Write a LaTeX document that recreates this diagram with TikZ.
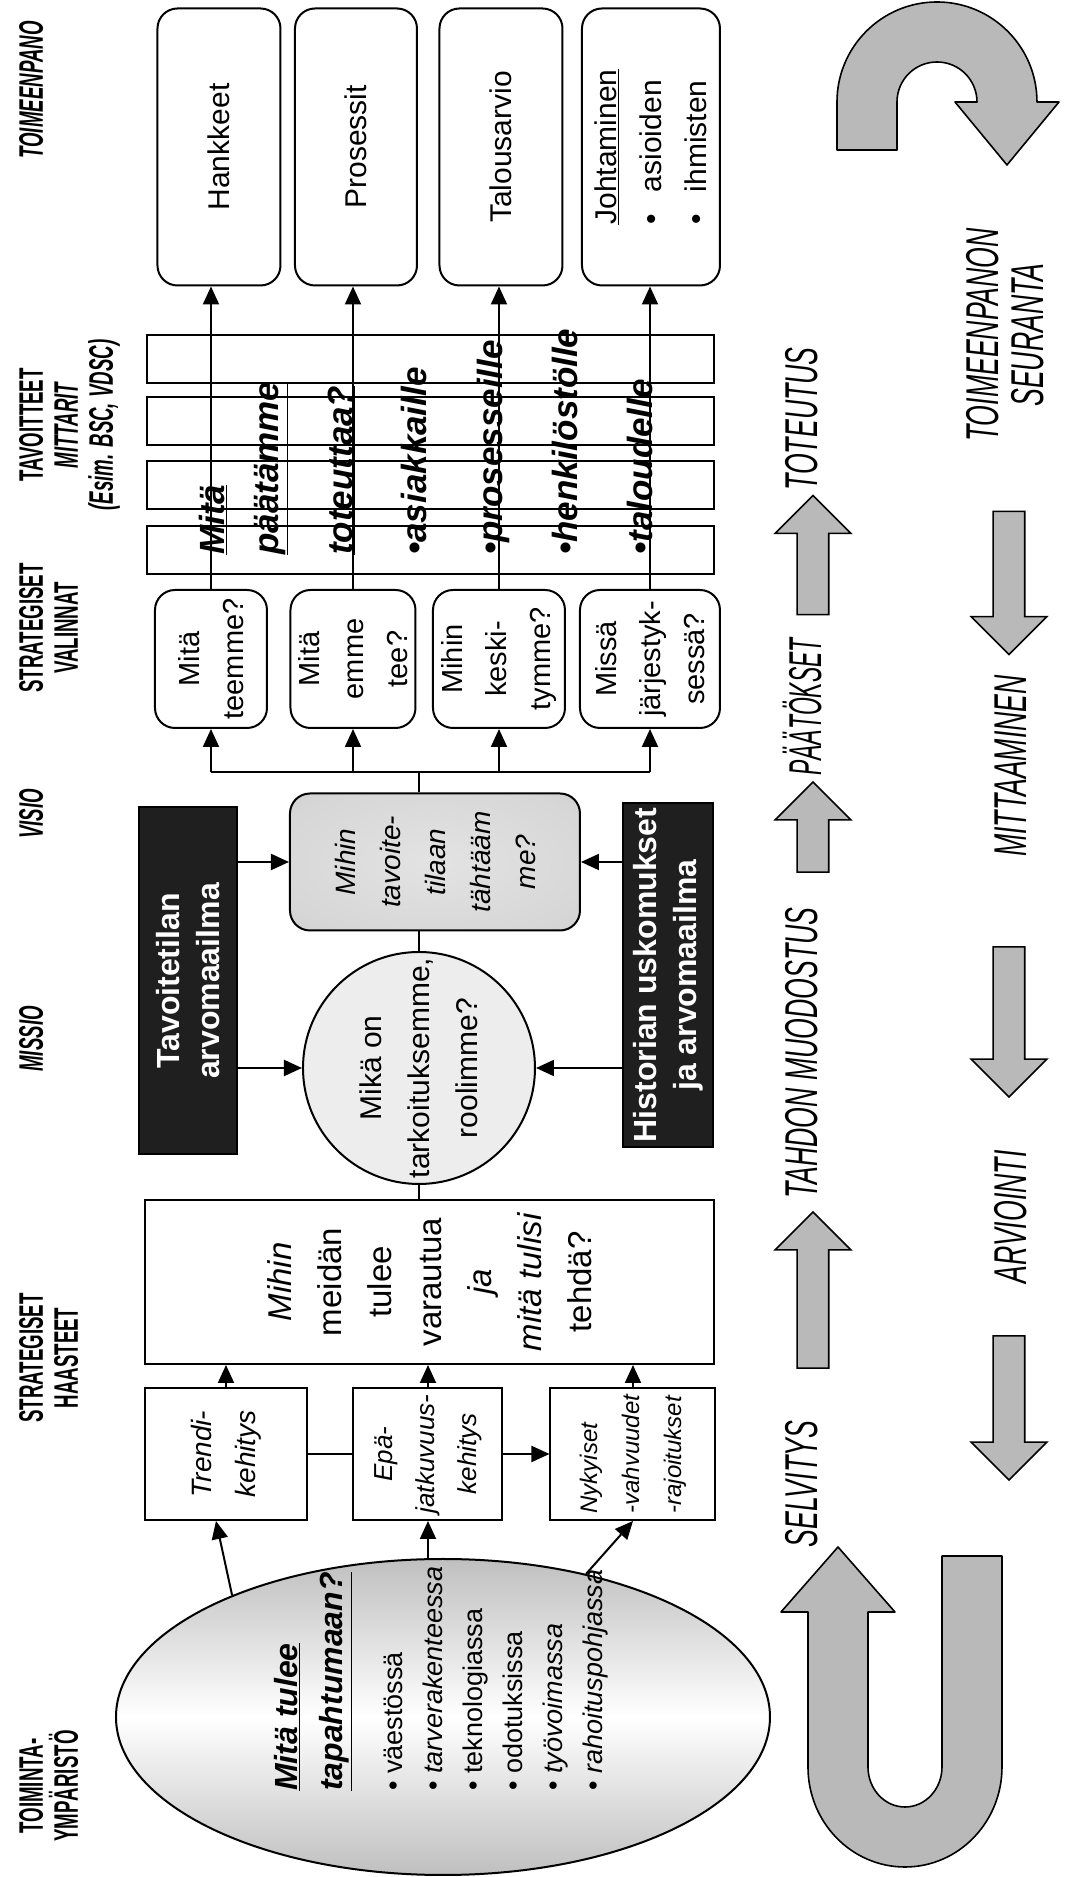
\documentclass[tikz,border=0pt]{standalone}
\usepackage{fontspec}
\setmainfont{Liberation Sans}
\newfontfamily\headfont{Liberation Sans}[FakeStretch=0.55]
\newfontfamily\phasefont{Liberation Sans}[FakeStretch=0.58]
\usetikzlibrary{positioning, shapes.geometric, shapes.arrows, arrows.meta}

\pgfdeclareradialshading{speckle}{\pgfpoint{0bp}{0bp}}{color(0bp)=(white); color(36bp)=(white); color(71bp)=(gray!70)}
\pgfdeclareradialshading{visionshade}{\pgfpoint{0bp}{0bp}}{color(0bp)=(gray!22); color(30bp)=(gray!32); color(71bp)=(gray!65)}

\tikzset{
  header/.style={align=center, anchor=north, inner sep=0pt,
    font=\headfont\bfseries\fontsize{34}{35}\selectfont},
  headerit/.style={header, font=\headfont\bfseries\itshape\fontsize{34}{35}\selectfont},
  phase/.style={inner sep=0pt, align=center,
    font=\phasefont\itshape\fontsize{46}{45}\selectfont},
  flowright/.style={single arrow, draw, line width=1.6pt, fill=gray!55,
    inner sep=0pt, text height=15pt, text depth=15pt,
    single arrow head extend=22pt, minimum height=#1},
  flowleft/.style={flowright=#1, shape border rotate=180},
  uturn/.style={draw, line width=1.6pt, fill=gray!55, line join=round},
  squarebox/.style={draw, rectangle, line width=2pt, align=center, inner sep=0pt},
  roundbox/.style={squarebox, rounded corners=20pt},
  darkbox/.style={squarebox, fill=black!88, text=white,
    font=\bfseries\fontsize{32}{40}\selectfont},
  strip/.style={draw, rectangle, line width=2pt, minimum width=48pt, minimum height=567pt},
  goal/.style={anchor=mid west, inner sep=0pt,
    font=\bfseries\itshape\fontsize{35}{40}\selectfont},
  link/.style={line width=2pt},
  tolink/.style={line width=2pt, -{Triangle[length=18pt, width=16pt]}},
}

\begin{document}
\begin{tikzpicture}[rotate=90, transform shape, x=1pt, y=1pt]
\useasboundingbox (0,0) rectangle (1877,1071);
\fill[white] (0,0) rectangle (1877,1071);

% column headers
\node[header]   (hEnv)  at (91,1052)   {TOIMINTA-\\YMPÄRISTÖ};
\node[header]   (hChal) at (519,1052)  {STRATEGISET\\HAASTEET};
\node[headerit] (hMis)  at (838,1052)  {MISSIO};
\node[headerit] (hVis)  at (1063,1052) {VISIO};
\node[header]   (hCho)  at (1249,1052) {STRATEGISET\\VALINNAT};
\node[header]   (hGoal) at (1452,1052) {TAVOITTEET\\\textit{MITTARIT}\\\textit{(Esim. BSC, VDSC)}};
\node[headerit] (hDo)   at (1787,1052) {TOIMEENPANO};

% operating environment
\node[ellipse, draw, line width=2pt, minimum width=316pt, minimum height=654pt, inner sep=0pt,
  top color=gray!50, bottom color=gray!50, middle color=white] (env) at (160,628) {};
\node[anchor=west, align=left, inner sep=0pt, font=\bfseries\itshape\fontsize{32}{45}\selectfont]
  (envq) at (86,758) {\underline{Mitä tulee}\\\underline{tapahtumaan?}};
\node[anchor=west, align=left, inner sep=0pt, font=\fontsize{27}{40}\selectfont] (envlist) at (86,575)
  {\textbullet\ väestössä\\\textbullet\ \textit{tarverakenteessa}\\\textbullet\ teknologiassa\\
   \textbullet\ odotuksissa\\\textbullet\ \textit{työvoimassa}\\\textbullet\ \textit{rahoituspohjassa}};

% strategic challenges
\node[squarebox, shading=speckle, minimum width=132pt, minimum height=162pt,
  font=\itshape\fontsize{28}{44}\selectfont] (trend) at (423,845) {Trendi-\\kehitys};
\node[squarebox, shading=speckle, minimum width=132pt, minimum height=149pt,
  font=\itshape\fontsize{26}{42}\selectfont] (disc) at (423,643) {Epä-\\jatkuvuus-\\kehitys};
\node[squarebox, shading=speckle, minimum width=132pt, minimum height=165pt, align=left,
  font=\itshape\fontsize{24}{42}\selectfont] (now) at (423,438) {Nykyiset\\-vahvuudet\\-rajoitukset};
\node[squarebox, shading=speckle, minimum width=164pt, minimum height=569pt,
  font=\fontsize{33}{50}\selectfont] (chal) at (595,641)
  {\textit{Mihin}\\meidän\\tulee\\varautua\\\textit{ja}\\\textit{mitä tulisi}\\tehdä?};

% mission and vision
\node[circle, draw, line width=2pt, minimum size=232pt, inner sep=0pt, fill=gray!14] (miss) at (809,652) {};
\node[align=center, inner sep=0pt, font=\fontsize{30}{48}\selectfont] (misstext) at (miss.center)
  {Mikä on\\tarkoituksemme,\\roolimme?};
\node[roundbox, shading=visionshade, minimum width=137pt, minimum height=290pt,
  font=\itshape\fontsize{28}{45}\selectfont] (vis) at (1015,636) {Mihin\\tavoite-\\tilaan\\tähtääm\\me?};
\node[darkbox, minimum width=347pt, minimum height=98pt] (ideal) at (896,883) {Tavoitetilan\\arvomaailma};
\node[darkbox, minimum width=344pt, minimum height=90pt] (past) at (902,403) {Historian uskomukset\\ja arvomaailma};

% strategic choices
\node[roundbox, minimum width=138pt, minimum height=112pt, font=\fontsize{29}{44}\selectfont] (ch1) at (1218,860) {Mitä\\teemme?};
\node[roundbox, minimum width=138pt, minimum height=125pt, font=\fontsize{29}{44}\selectfont] (ch2) at (1218,718) {Mitä\\emme\\tee?};
\node[roundbox, minimum width=138pt, minimum height=132pt, font=\fontsize{29}{44}\selectfont] (ch3) at (1218,572) {Mihin\\keski-\\tymme?};
\node[roundbox, minimum width=138pt, minimum height=140pt, font=\fontsize{29}{44}\selectfont] (ch4) at (1218,421) {Missä\\järjestyk-\\sessä?};

% goals and measures
\foreach \i/\x in {1/1327, 2/1392, 3/1456, 4/1518}
  \node[strip] (m\i) at (\x,640) {};

% implementation
\node[roundbox, shading=speckle, minimum width=277pt, minimum height=123pt, font=\fontsize{30}{45}\selectfont] (do1) at (1730,852) {Hankkeet};
\node[roundbox, shading=speckle, minimum width=277pt, minimum height=122pt, font=\fontsize{30}{45}\selectfont] (do2) at (1730,715) {Prosessit};
\node[roundbox, shading=speckle, minimum width=277pt, minimum height=123pt, font=\fontsize{30}{45}\selectfont] (do3) at (1730,570) {Talousarvio};
\node[roundbox, shading=speckle, minimum width=277pt, minimum height=138pt, align=left, font=\fontsize{30}{45}\selectfont] (do4) at (1730,420)
  {\underline{Johtaminen}\\\textbullet\hspace{22pt}asioiden\\\textbullet\hspace{22pt}ihmisten};

% connectors
\draw[tolink] (env.60) -- ([yshift=10pt]trend.west);
\draw[tolink] (env.east |- disc.west) -- (disc.west);
\draw[tolink] (env.-45) -- (now.west);
\draw[link] (trend.south) -- (disc.north);
\draw[tolink] (disc.south) -- (now.north);
\foreach \n in {trend, disc, now}
  \draw[tolink] (\n.east) -- (\n.east -| chal.west);

\draw[link] (miss.west -| chal.east) -- (miss.west);
\draw[link] (miss.east) -- (miss.east -| vis.west);
\draw[tolink] (ideal.south -| miss.north) -- (miss.north);
\draw[tolink] (ideal.south -| vis.north) -- (vis.north);
\draw[tolink] (past.north -| miss.south) -- (miss.south);
\draw[tolink] (past.north -| vis.south) -- (vis.south);

\draw[link] (vis.east |- miss) -- ++(20,0) coordinate (fork);
\draw[link] (fork |- ch1) -- (fork |- ch4);
\foreach \n in {1,...,4}
  \draw[tolink] (fork |- ch\n) -- (ch\n.west);
\foreach \n in {1,...,4}
  \draw[tolink] (ch\n.east) -- (ch\n.east -| do\n.west);

% texts over the measures
\node[goal] (g1) at (1322,849) {\underline{Mitä}};
\node[goal] (g2) at (1322,795) {\underline{päätämme}};
\node[goal] (g3) at (1322,721) {\underline{toteuttaa?}};
\node[goal] (g4) at (1322,647) {\textbullet asiakkaille};
\node[goal] (g5) at (1322,571) {\textbullet prosesseille};
\node[goal] (g6) at (1322,496) {\textbullet henkilöstölle};
\node[goal] (g7) at (1322,421) {\textbullet taloudelle};

% process cycle
\node[phase] (p1) at (393,269)  {SELVITYS};
\node[flowright=156pt] (f1) at (579,258) {};
\node[phase] (p2) at (824,269)  {TAHDON MUODOSTUS};
\node[flowright=90pt] (f2) at (1042,258) {};
\node[phase, xscale=0.86] (p3) at (1170,269) {PÄÄTÖKSET};
\node[flowright=119pt] (f3) at (1314,258) {};
\node[phase] (p4) at (1458,269) {TOTEUTUS};
\node[phase] (p5) at (1542,66)  {TOIMEENPANON\\SEURANTA};
\node[flowleft=143pt] (f5) at (1302,62) {};
\node[phase] (p6) at (1111,60)  {MITTAAMINEN};
\node[flowleft=150pt] (f6) at (863,62) {};
\node[phase] (p7) at (660,60)   {ARVIOINTI};
\node[flowleft=144pt] (f7) at (477,62) {};

\draw[uturn] (1727,234) -- (1775,234) arc[start angle=90, end angle=-90, x radius=100, y radius=100]
  -- (1775,12) -- (1712,64) -- (1775,116) -- (1775,94)
  arc[start angle=-90, end angle=90, x radius=40, y radius=40] -- (1727,174) -- cycle;
\draw[uturn] (321,69) -- (110,69) arc[start angle=-90, end angle=-270, x radius=100, y radius=97]
  -- (265,263) -- (265,290) -- (330,233) -- (265,176) -- (265,203) -- (110,203)
  arc[start angle=90, end angle=270, x radius=40, y radius=37] -- (321,129) -- cycle;

\end{tikzpicture}
\end{document}
